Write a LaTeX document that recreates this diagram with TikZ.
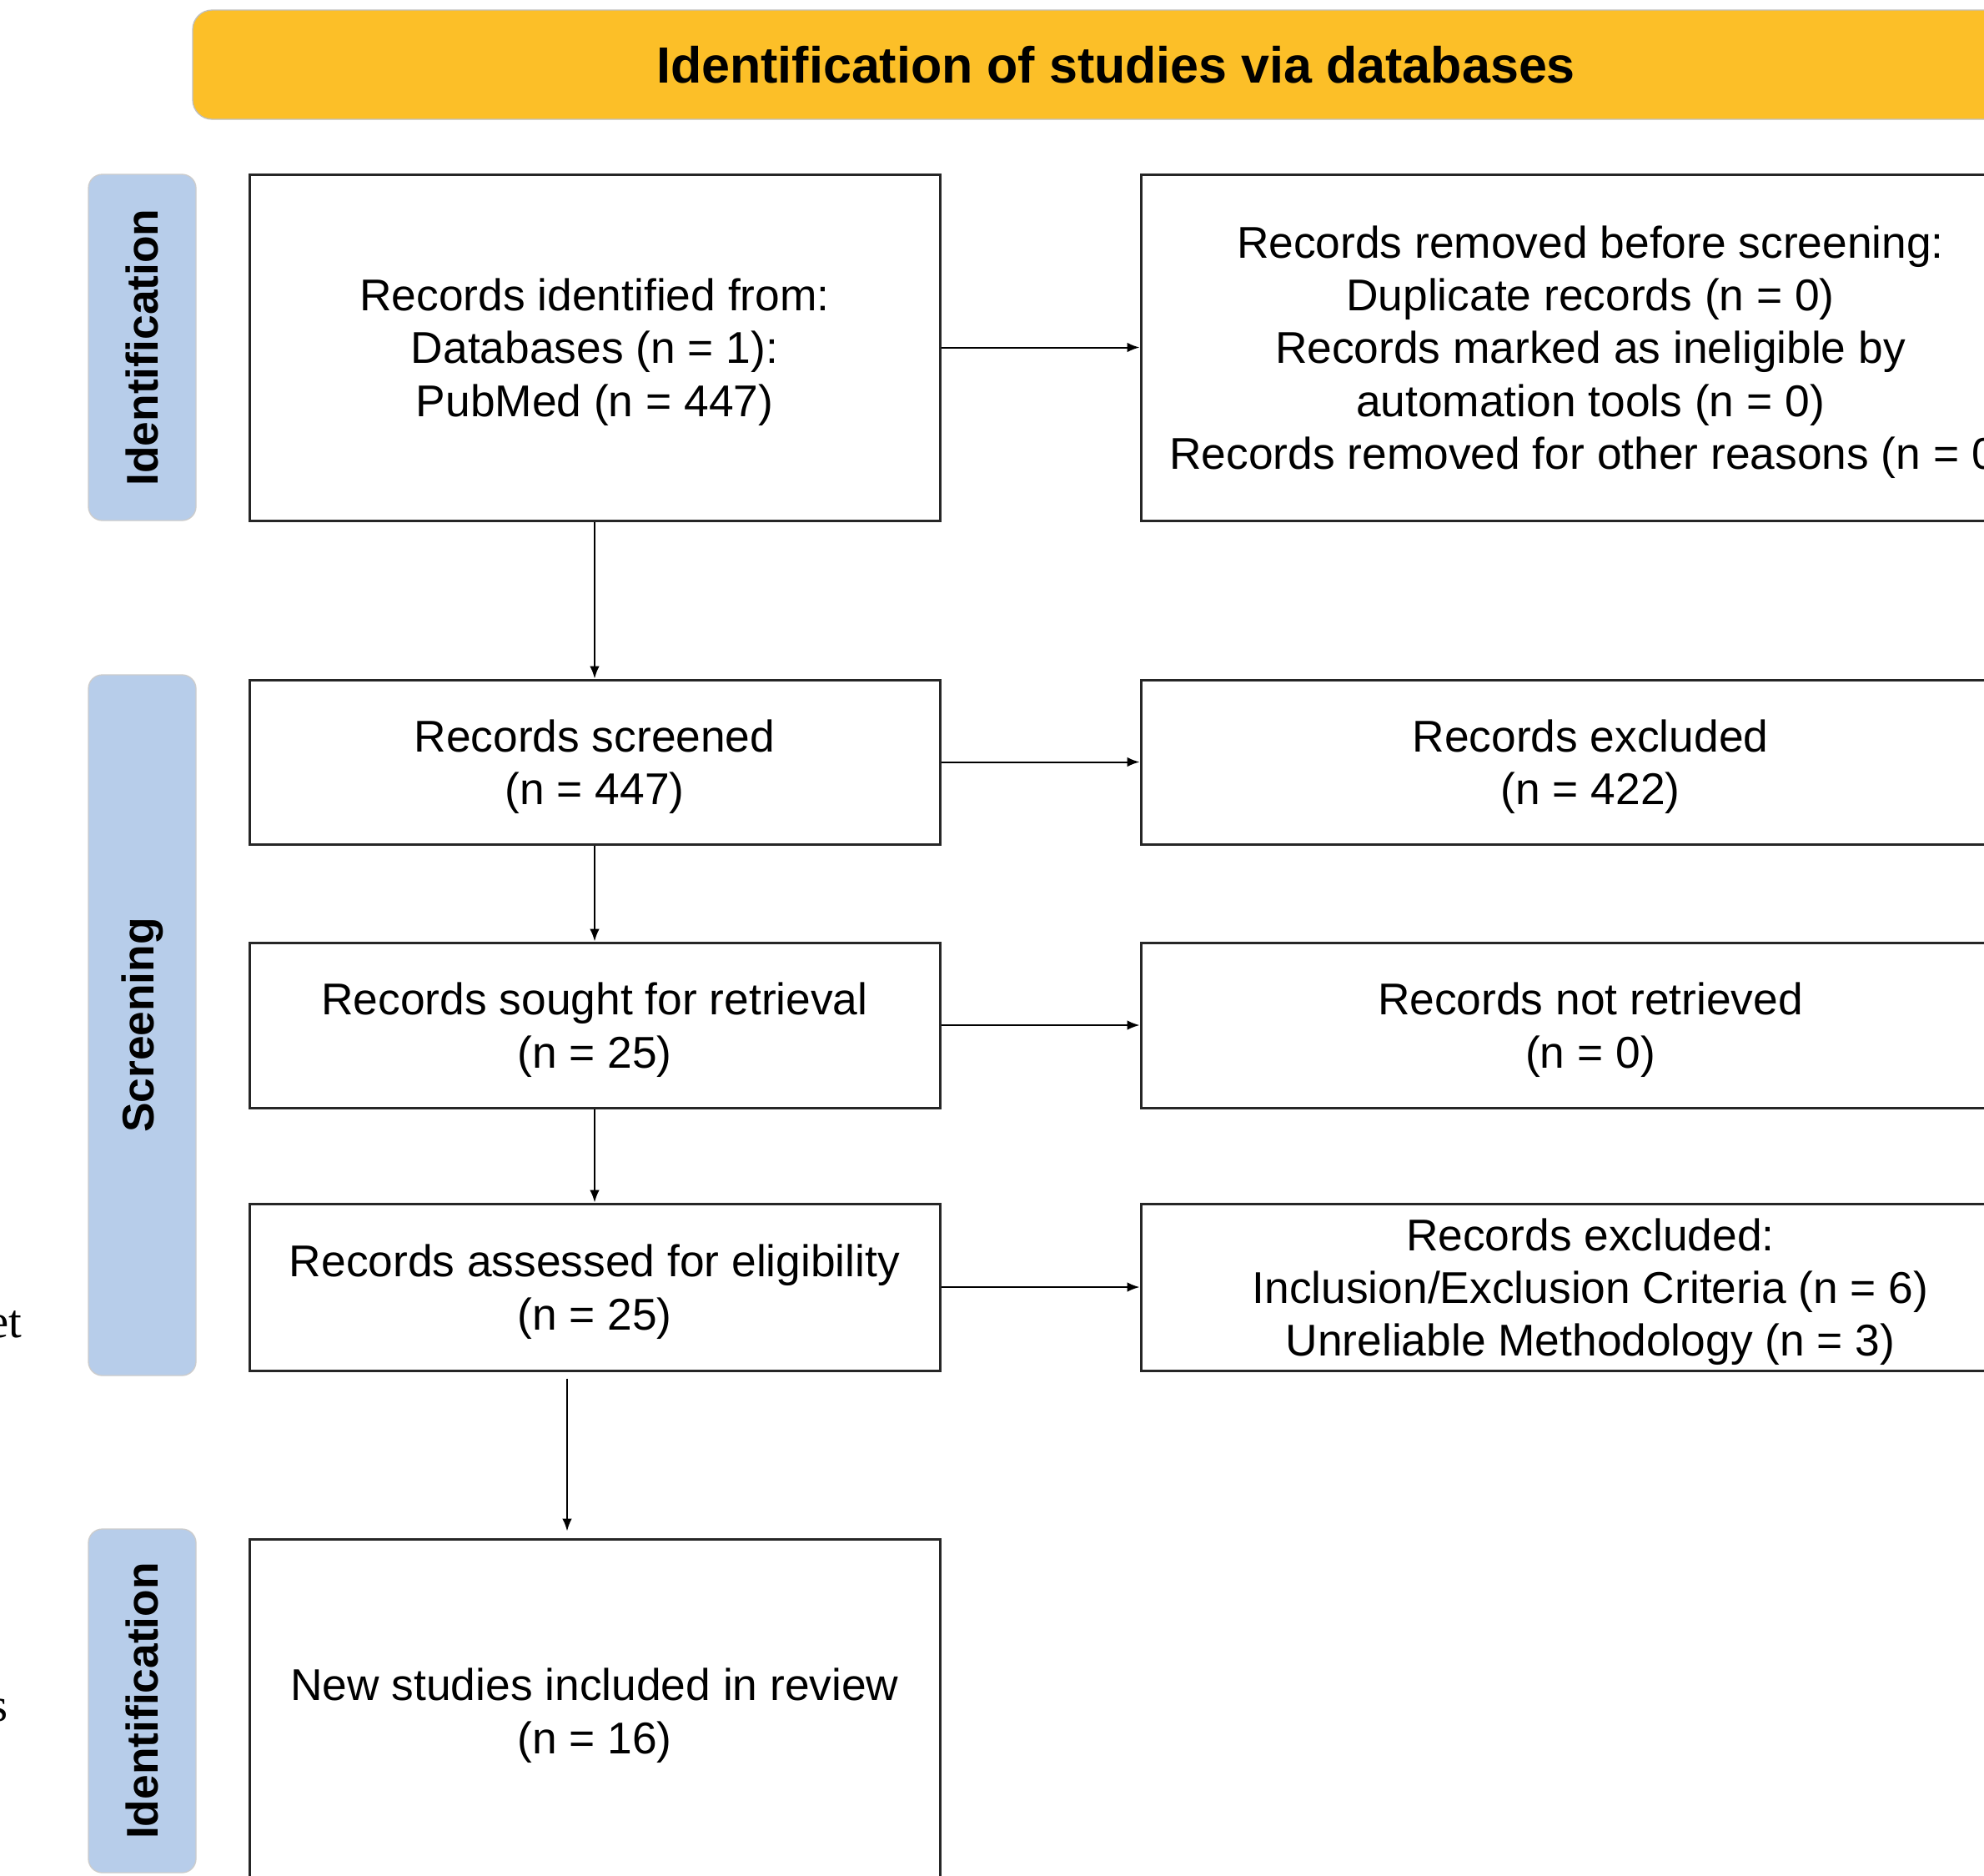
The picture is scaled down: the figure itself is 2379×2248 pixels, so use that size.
\documentclass[tikz,border=0pt]{standalone}
\usepackage{fontspec}
\setmainfont{Liberation Sans}
\newfontfamily\strayfont{Liberation Serif}
\usepackage{tikz}
\usetikzlibrary{arrows.meta, positioning, calc}
\definecolor{headamber}{RGB}{252, 191, 40}
\definecolor{phaseblue}{RGB}{183, 205, 234}

\tikzset{
    recordbox/.style={draw=black!85, line width=0.9pt, fill=white, align=center,
        font=\fontsize{16}{19}\selectfont, inner sep=4pt, text depth=-0.6pt},
    phasebox/.style={fill=phaseblue, draw=black!20, line width=0.4pt, rounded corners=5pt,
        rotate=90, minimum height=38.7pt, font=\fontsize{16}{19}\selectfont\bfseries},
    flowline/.style={line width=0.6pt, -{Latex[length=4.5pt, width=3.5pt]}}
}

\begin{document}
\begin{tikzpicture}[x=0.3pt, y=-0.3pt]
            \clip (0,0) rectangle (2379,2248);
            \fill[white] (0,0) rectangle (2379,2248);

            % header bar
            \node[fill=headamber, draw=black!25, line width=0.4pt, rounded corners=7pt,
                minimum width=664.2pt, minimum height=39.3pt,
                font=\fontsize{18.3}{22}\selectfont\bfseries] (head) at (1338,77.5)
                {Identification of studies via databases};

            % phase labels
            \node[phasebox, minimum width=124.5pt] (phaseid) at (170.5,416.5) {Identification};
            \node[phasebox, minimum width=252pt] (phasescr) at (170.5,1229) {Screening};
            \node[phasebox, minimum width=123.6pt] (phaseinc) at (170.5,2039) {Identification};

            % left column
            \node[recordbox, minimum width=248.4pt, minimum height=124.5pt] (identified) at (713,416.5)
                {Records identified from:\\ Databases (n = 1):\\ PubMed (n = 447)};
            \node[recordbox, minimum width=248.4pt, minimum height=59.1pt] (screened) at (713,913.5)
                {Records screened\\ (n = 447)};
            \node[recordbox, minimum width=248.4pt, minimum height=59.4pt] (sought) at (713,1229)
                {Records sought for retrieval\\ (n = 25)};
            \node[recordbox, minimum width=248.4pt, minimum height=60pt] (assessed) at (713,1543)
                {Records assessed for eligibility\\ (n = 25)};
            \node[recordbox, minimum width=248.4pt, minimum height=123.6pt] (included) at (713,2051)
                {New studies included in review\\ (n = 16)};

            % right column
            \node[recordbox, minimum width=323.4pt, minimum height=124.5pt] (removed) at (1907,416.5)
                {Records removed before screening:\\ Duplicate records (n = 0)\\
                 Records marked as ineligible by\\ automation tools (n = 0)\\
                 Records removed for other reasons (n = 0)};
            \node[recordbox, minimum width=323.4pt, minimum height=59.1pt] (excluded) at (1907,913.5)
                {Records excluded\\ (n = 422)};
            \node[recordbox, minimum width=323.4pt, minimum height=59.4pt] (notretrieved) at (1907,1229)
                {Records not retrieved\\ (n = 0)};
            \node[recordbox, minimum width=323.4pt, minimum height=60pt] (excludedcrit) at (1907,1543)
                {Records excluded:\\ Inclusion/Exclusion Criteria (n = 6)\\ Unreliable Methodology (n = 3)};

            % connectors
            \draw[flowline] (identified) -- (removed);
            \draw[flowline] (identified) -- (screened);
            \draw[flowline] (screened) -- (excluded);
            \draw[flowline] (screened) -- (sought);
            \draw[flowline] (sought) -- (notretrieved);
            \draw[flowline] (sought) -- (assessed);
            \draw[flowline] (assessed) -- (excludedcrit);
            \draw[flowline] ($(assessed.south)+(-33,8)$) -- ($(included.north)+(-33,-8)$);

            % text of the page beside the figure
            \node[anchor=base east, inner sep=0pt, font=\strayfont\fontsize{17}{20}\selectfont] (strayet) at (27,1603) {et};
            \node[anchor=base east, inner sep=0pt, font=\strayfont\fontsize{17}{20}\selectfont] (strays) at (10,2063) {s};
        \end{tikzpicture}
\end{document}
